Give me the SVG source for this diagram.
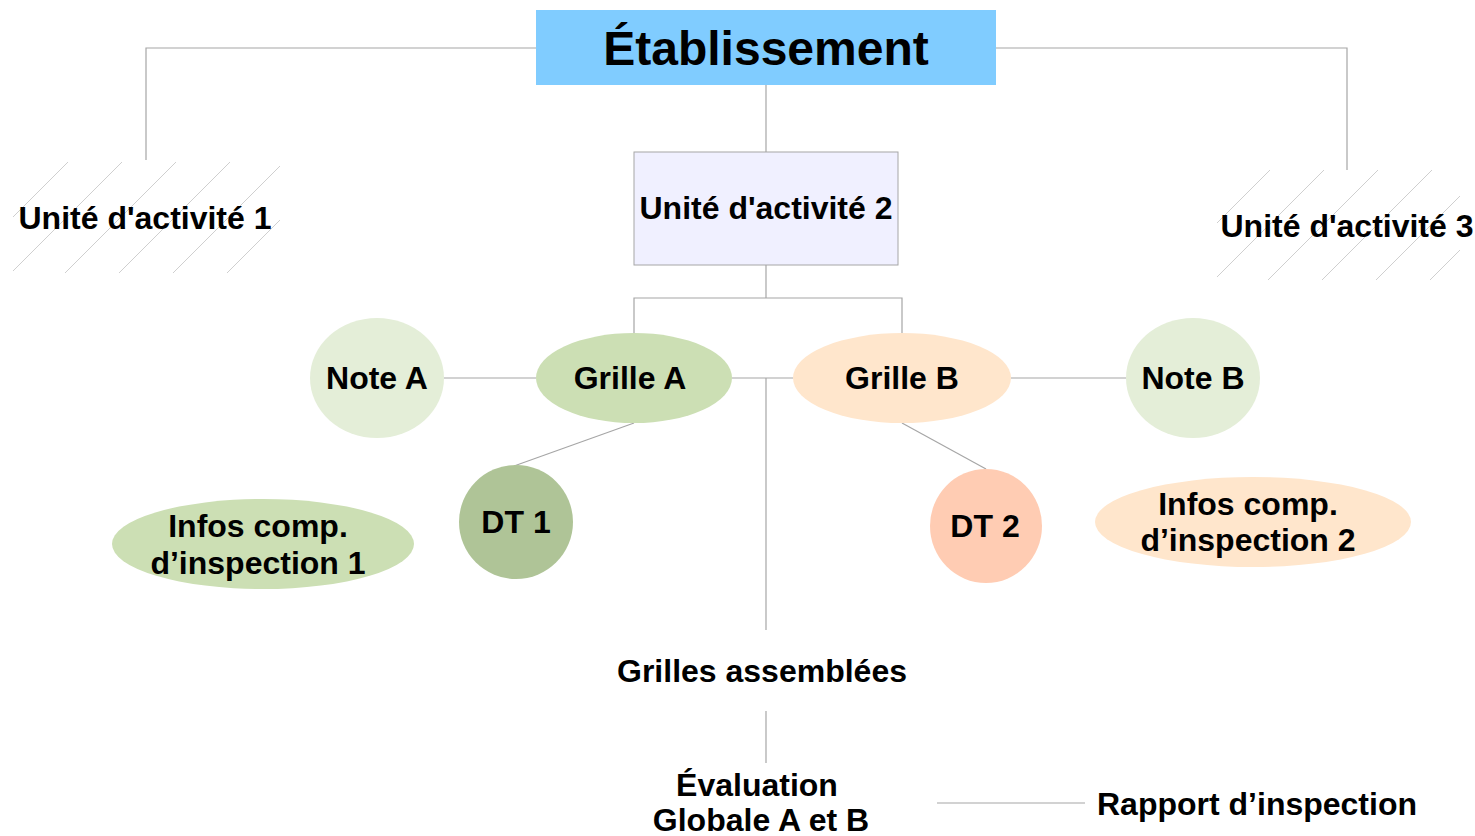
<svg xmlns="http://www.w3.org/2000/svg" width="1475" height="836" viewBox="0 0 1475 836">
<style>
  text { font-family: "Liberation Sans", Arial, sans-serif; font-weight: bold; fill: #000; text-anchor: middle; }
  .t31 { font-size: 32px; }
  .conn line, .conn polyline { stroke: #A6A6A6; stroke-width: 1.2; fill: none; }
  .hatch line { stroke: #CFCFCF; stroke-width: 1; }
</style>
<defs>
  <clipPath id="clip1"><rect x="13" y="162" width="267" height="111"/></clipPath>
  <clipPath id="clip3"><rect x="1217" y="170" width="243" height="110"/></clipPath>
</defs>
<rect width="1475" height="836" fill="#FFFFFF"/>

<g id="connectors" class="conn">
  <polyline points="536,48 146,48 146,160"/>
  <polyline points="996,48 1347,48 1347,170"/>
  <line x1="766" y1="85" x2="766" y2="152"/>
  <line x1="766" y1="265" x2="766" y2="298"/>
  <polyline points="634,333 634,298 902,298 902,333"/>
  <line x1="444" y1="378" x2="536" y2="378"/>
  <line x1="732" y1="378" x2="793" y2="378"/>
  <line x1="1011" y1="378" x2="1126" y2="378"/>
  <line x1="634" y1="423" x2="514" y2="466"/>
  <line x1="902" y1="423" x2="986" y2="469"/>
  <line x1="766" y1="378" x2="766" y2="630"/>
  <line x1="766" y1="711" x2="766" y2="763"/>
  <line x1="937" y1="803" x2="1085" y2="803"/>
</g>

<g id="etablissement">
  <rect x="536" y="10" width="460" height="75" fill="#80CCFF"/>
  <text x="766" y="65" style="font-size:48px">Établissement</text>
</g>

<g id="unite1">
  <g class="hatch" clip-path="url(#clip1)">
    <line x1="230" y1="0" x2="-100" y2="330"/>
    <line x1="284" y1="0" x2="-46" y2="330"/>
    <line x1="338" y1="0" x2="8" y2="330"/>
    <line x1="392" y1="0" x2="62" y2="330"/>
    <line x1="446" y1="0" x2="116" y2="330"/>
    <line x1="500" y1="0" x2="170" y2="330"/>
  </g>
  <text class="t31" x="145" y="229">Unité d'activité 1</text>
</g>

<g id="unite2">
  <rect x="634" y="152" width="264" height="113" fill="#F0F0FF" stroke="#A6A6A6" stroke-width="1"/>
  <text class="t31" x="766" y="219">Unité d'activité 2</text>
</g>

<g id="unite3">
  <g class="hatch" clip-path="url(#clip3)">
    <line x1="1440" y1="0" x2="1110" y2="330"/>
    <line x1="1494" y1="0" x2="1164" y2="330"/>
    <line x1="1548" y1="0" x2="1218" y2="330"/>
    <line x1="1602" y1="0" x2="1272" y2="330"/>
    <line x1="1656" y1="0" x2="1326" y2="330"/>
    <line x1="1710" y1="0" x2="1380" y2="330"/>
  </g>
  <text class="t31" x="1347" y="237">Unité d'activité 3</text>
</g>

<g id="noteA">
  <ellipse cx="377" cy="378" rx="67" ry="60" fill="#E4EED8"/>
  <text class="t31" x="377" y="389">Note A</text>
</g>

<g id="grilleA">
  <ellipse cx="634" cy="378" rx="98" ry="45" fill="#CCDFB4"/>
  <text class="t31" x="630" y="389">Grille A</text>
</g>

<g id="grilleB">
  <ellipse cx="902" cy="378" rx="109" ry="45" fill="#FFE6CC"/>
  <text class="t31" x="902" y="389">Grille B</text>
</g>

<g id="noteB">
  <ellipse cx="1193" cy="378" rx="67" ry="60" fill="#E4EED8"/>
  <text class="t31" x="1193" y="389">Note B</text>
</g>

<g id="dt1">
  <ellipse cx="516" cy="522" rx="57" ry="57" fill="#AFC497"/>
  <text class="t31" x="516" y="533">DT 1</text>
</g>

<g id="dt2">
  <ellipse cx="986" cy="526" rx="56" ry="57" fill="#FFCCB3"/>
  <text class="t31" x="985" y="537">DT 2</text>
</g>

<g id="infos1">
  <ellipse cx="263" cy="544" rx="151" ry="45" fill="#CCDFB4"/>
  <text class="t31" x="258" y="537">Infos comp.</text>
  <text class="t31" x="258" y="574">d’inspection 1</text>
</g>

<g id="infos2">
  <ellipse cx="1253" cy="522" rx="158" ry="45" fill="#FFE6CC"/>
  <text class="t31" x="1248" y="515">Infos comp.</text>
  <text class="t31" x="1248" y="551">d’inspection 2</text>
</g>

<g id="grilles-assemblees">
  <text class="t31" x="762" y="682">Grilles assemblées</text>
</g>

<g id="evaluation">
  <text class="t31" x="757" y="796">Évaluation</text>
  <text class="t31" x="761" y="831">Globale A et B</text>
</g>

<g id="rapport">
  <text class="t31" x="1257" y="815">Rapport d’inspection</text>
</g>
</svg>
